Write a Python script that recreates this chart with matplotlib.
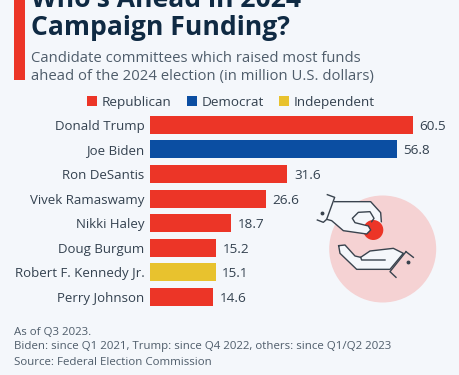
import numpy as np
import matplotlib
matplotlib.use("Agg")
import matplotlib.pyplot as plt
from matplotlib.patches import Rectangle, Circle, Polygon

W, H = 460, 375
BG = "#f4f7fb"
RED = "#ec3527"
BLUE = "#0b4ea2"
YELLOW = "#e8c22e"
NAVY = "#0f2a43"
GREY = "#4f5d6b"

candidates = ["Donald Trump", "Joe Biden", "Ron DeSantis", "Vivek Ramaswamy",
              "Nikki Haley", "Doug Burgum", "Robert F. Kennedy Jr.", "Perry Johnson"]
funds = [60.5, 56.8, 31.6, 26.6, 18.7, 15.2, 15.1, 14.6]
party = ["Republican", "Democrat", "Republican", "Republican",
         "Republican", "Republican", "Independent", "Republican"]
party_colors = {"Republican": RED, "Democrat": BLUE, "Independent": YELLOW}

plt.rcParams["font.family"] = ["Open Sans", "DejaVu Sans"]

fig = plt.figure(figsize=(W / 100, H / 100), dpi=100, facecolor=BG)

# overlay in pixel coordinates, y pointing down
bg = fig.add_axes([0, 0, 1, 1])
bg.set_xlim(0, W)
bg.set_ylim(H, 0)
bg.axis("off")

bg.add_patch(Rectangle((14, 0), 11, 80, color=RED, lw=0))
bg.text(31, 7, "Who's Ahead in 2024", fontsize=19.1, fontweight="bold", color=NAVY, va="baseline")
bg.text(31, 35, "Campaign Funding?", fontsize=19.1, fontweight="bold", color=NAVY, va="baseline")
bg.text(31, 62, "Candidate committees which raised most funds", fontsize=10.75, color=GREY, va="baseline")
bg.text(31, 80, "ahead of the 2024 election (in million U.S. dollars)", fontsize=10.75, color=GREY, va="baseline")

# legend
for x, name in [(87, "Republican"), (187, "Democrat"), (279, "Independent")]:
    bg.add_patch(Rectangle((x, 96), 10, 10, color=party_colors[name], lw=0))
    bg.text(x + 15, 106, name, fontsize=9.7, color="#33414f", va="baseline")

# footer
bg.text(14, 335, "As of Q3 2023.", fontsize=8.25, color=GREY, va="baseline")
bg.text(14, 349, "Biden: since Q1 2021, Trump: since Q4 2022, others: since Q1/Q2 2023",
        fontsize=8.25, color=GREY, va="baseline")
bg.text(14, 365, "Source: Federal Election Commission", fontsize=8.25, color=GREY, va="baseline")

# bars
ax = fig.add_axes([150 / W, 1 - 309.3 / H, 263 / W, 196.8 / H], facecolor="none")
y = np.arange(len(candidates))
ax.barh(y, funds, height=0.73, color=[party_colors[p] for p in party])
ax.set_xlim(0, 60.5)
ax.set_ylim(len(candidates) - 0.5, -0.5)
ax.set_yticks(y, candidates)
ax.tick_params(axis="y", length=0, pad=4, labelsize=9.55, labelcolor="#33414f")
ax.set_xticks([])
for s in ax.spines.values():
    s.set_visible(False)
for yi, v in zip(y, funds):
    ax.text(v + 1.5, yi, f"{v}", va="center_baseline", ha="left", fontsize=9.7, color="#33414f")

# hands icon
ic = fig.add_axes([0, 0, 1, 1], facecolor="none")
ic.set_xlim(0, W)
ic.set_ylim(H, 0)
ic.axis("off")


def pts(p):
    p = np.array(p, dtype=float)
    return np.column_stack([290 + p[:, 0] / 3, 180 + p[:, 1] / 3])


LINE = "#39434e"
ic.add_patch(Circle((382.7, 249), 53.5, color="#f5d2d3", lw=0, zorder=1))

top_hand = [(134, 65), (242, 65), (272, 98), (274, 125), (270, 150), (242, 160), (230, 162),
            (160, 152), (125, 122), (110, 118)]
ic.add_patch(Polygon(pts(top_hand), closed=True, fc=BG, ec="none", zorder=2))
ic.add_patch(Circle((373.3, 230), 10, color=RED, lw=0, zorder=3))
low_hand = [(146, 197), (165, 195), (195, 228), (212, 232), (240, 213), (310, 205), (340, 220),
            (300, 268), (200, 268), (150, 220)]
ic.add_patch(Polygon(pts(low_hand), closed=True, fc=BG, ec="none", zorder=2))

# thumb over the coin, then the outlines
thumb = [(160, 152), (230, 162), (242, 150), (235, 138), (195, 128), (125, 122)]
ic.add_patch(Polygon(pts(thumb), closed=True, fc=BG, ec="none", zorder=3.5))
lines = [
    [(112, 44), (134, 52), (110, 118), (100, 127), (82, 120)],
    [(134, 65), (242, 65), (272, 98), (274, 125)],
    [(110, 118), (125, 122), (160, 152), (230, 162), (242, 150), (235, 138), (195, 128),
     (187, 115), (205, 97), (240, 95), (252, 115), (245, 125)],
    low_hand + [low_hand[0]],
    [(212, 232), (215, 240), (285, 240)],
    [(348, 215), (370, 232)],
    [(348, 215), (300, 275), (318, 292)],
]
for l in lines:
    q = pts(l)
    ic.plot(q[:, 0], q[:, 1], color=LINE, lw=1.0, zorder=4, solid_joinstyle="round")
dots = pts([(95, 99), (353, 245)])
ic.plot(dots[:, 0], dots[:, 1], "o", color=LINE, ms=1.8, zorder=4)

fig.savefig("out.png", dpi=100, facecolor=BG)
